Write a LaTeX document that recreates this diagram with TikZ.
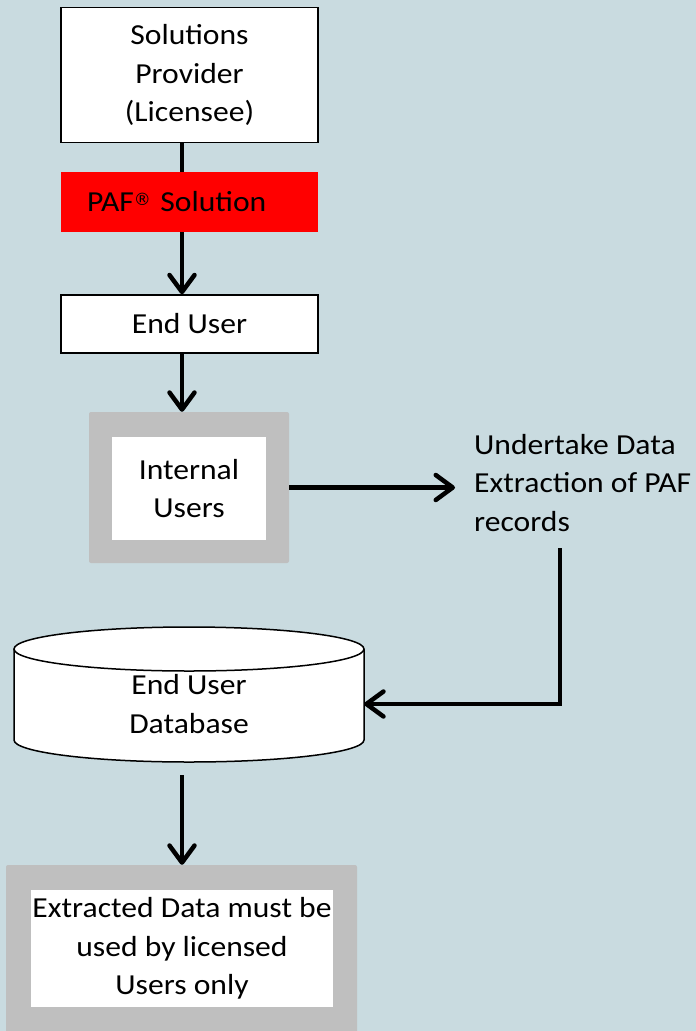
\documentclass[tikz,border=0pt]{standalone}
\usepackage{fontspec}
\setmainfont[FakeStretch=1.09]{Carlito}
\newfontfamily\regfont{DejaVu Sans}
\usetikzlibrary{arrows.meta}
\definecolor{slide}{HTML}{C9DBE0}
\definecolor{framegrey}{HTML}{BFBFBF}
\definecolor{pafred}{HTML}{FF0000}
\begin{document}
\begin{tikzpicture}[x=1pt,y=-1pt,
	every node/.style={font=\fontsize{29}{38.5}\selectfont,align=center,inner sep=0pt},
	plainbox/.style={draw=black,fill=white,line width=1.5pt},
	greyframe/.style={fill=framegrey,rounded corners=2pt},
	flow/.style={line width=4.5pt},
	arr/.style={flow,-{Straight Barb[length=17pt,width=25pt,round]}}]
	\fill[slide] (0,0) rectangle (696,1031);
	\useasboundingbox (0,0) rectangle (696,1031);
	\coordinate (spine) at (182,0);
	\node[plainbox,minimum width=257,minimum height=135] (sp) at (189.5,75) {Solutions\\Provider\\(Licensee)};
	\node[fill=pafred,minimum height=60,text width=205,inner xsep=26,align=left] (paf) at (189.5,202) {PAF\raisebox{6pt}{\regfont\fontsize{17}{17}\selectfont ®} Solution};
	\node[plainbox,minimum width=257,minimum height=58] (eu) at (189.5,324) {End User};
	\node[greyframe,minimum width=200,minimum height=151] (iuframe) at (189,487.5) {};
	\node[fill=white,minimum width=154,minimum height=103] (iu) at (189,488.5) {Internal\\Users};
	\node[anchor=west,align=left,inner xsep=19] (extract) at (455,483) {Undertake Data\\Extraction of PAF\\records};
	\filldraw[fill=white,line width=1.5pt] (14,649) -- (14,740) arc[start angle=180,end angle=0,x radius=175,y radius=22] -- (364,649);
	\draw[fill=white,line width=1.5pt] (189,649) ellipse[x radius=175,y radius=22];
	\node[minimum width=350,minimum height=142] (db) at (189,704) {End User\\Database};
	\node[greyframe,minimum width=351,minimum height=170] (extframe) at (181.5,950) {};
	\node[fill=white,minimum width=302,minimum height=117] (used) at (182,948.5) {Extracted Data must be\\used by licensed\\Users only};
	\coordinate (drop) at (560,548);
	\draw[flow] (sp.south -| spine) -- (paf.north -| spine);
	\draw[arr] (paf.south -| spine) -- (eu.north -| spine);
	\draw[arr] (eu.south -| spine) -- (iuframe.north -| spine);
	\draw[arr] (iuframe.east) -- (iuframe.east -| extract.west);
	\draw[arr] (drop) |- (db.east);
	\draw[arr] (db.south -| spine) -- (extframe.north -| spine);
\end{tikzpicture}
\end{document}
